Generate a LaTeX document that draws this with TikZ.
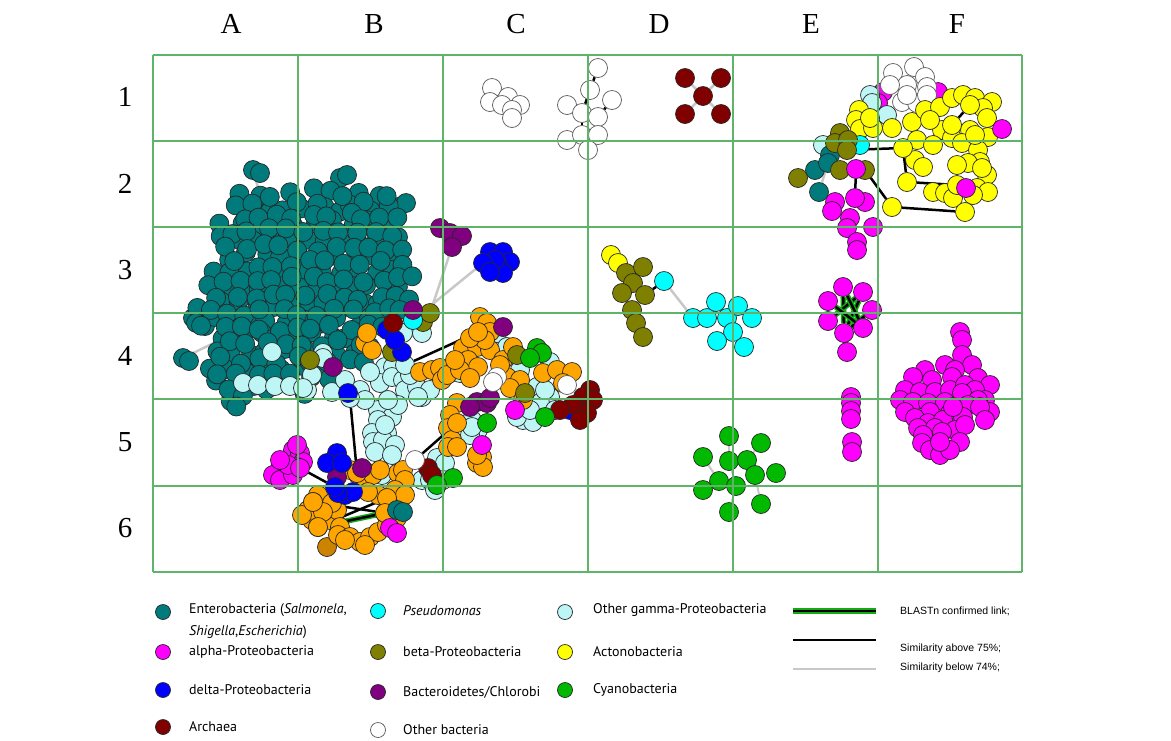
\documentclass[tikz,border=0pt]{standalone}
\usepackage{fontspec}
\newfontfamily\legfont{PT Sans}
\newfontfamily\linefont{Liberation Sans}
\newfontfamily\gridfont{Liberation Serif}
\usetikzlibrary{backgrounds}
\definecolor{entero}{RGB}{0,122,122}
\definecolor{alphap}{RGB}{255,0,255}
\definecolor{deltap}{RGB}{0,0,255}
\definecolor{archaea}{RGB}{128,0,0}
\definecolor{pseudo}{RGB}{0,255,255}
\definecolor{betap}{RGB}{128,128,0}
\definecolor{bactch}{RGB}{128,0,128}
\definecolor{gammap}{RGB}{190,245,245}
\definecolor{actino}{RGB}{255,255,0}
\definecolor{cyano}{RGB}{0,185,0}
\definecolor{orangeb}{RGB}{255,165,0}
\definecolor{gridgreen}{RGB}{95,180,105}
\definecolor{weakgray}{RGB}{200,200,200}
\definecolor{blastgreen}{RGB}{20,170,20}
\newcommand\entrows{192/{242,262,290,310,330,358,376},
                    208/{235,253,271,285,303,321,339,352,370,386},
                    224/{222,240,258,276,296,314,332,350,368,385},
                    240/{218,236,254,272,290,308,326,344,362,380,395},
                    256/{228,246,264,282,300,318,336,354,372,390},
                    272/{212,230,248,266,284,302,320,338,356,374,392,404},
                    288/{208,226,244,262,280,298,316,334,352,370,388,400},
                    304/{200,218,236,254,272,290,308,326,344,362,380,392},
                    320/{196,214,232,250,268,286,304,322,340,358,370},
                    336/{222,240,258,276,294,312,330,348,360},
                    352/{214,232,250,268,286,304,322,340,352},
                    368/{210,228,246,264,282,300,318},
                    384/{218,236,256,296},
                    398/{230}}
\tikzset{
  bact/.style={circle, draw=black!85, line width=0.7pt, fill=#1, minimum size=19pt, inner sep=0pt},
  otherb/.style={bact=white, draw=black!65},
  legdot/.style={bact=#1, minimum size=15pt},
  weak/.style={draw=weakgray, line width=2.5pt},
  strong/.style={draw=black, line width=2.5pt},
  blast/.style={draw=blastgreen, line width=1.5pt, double=black, double distance=2.5pt},
  gridline/.style={draw=gridgreen, line width=1.2pt},
  legtext/.style={anchor=west, inner sep=0pt, font=\legfont\fontsize{14}{22}\selectfont},
  linetext/.style={anchor=west, inner sep=0pt, font=\linefont\fontsize{10.5}{12}\selectfont},
  gridlab/.style={font=\gridfont\fontsize{29}{32}\selectfont}
}
\begin{document}
\begin{tikzpicture}[x=1pt,y=-1pt]
\useasboundingbox (0,0) rectangle (1171,740);

% column and row labels
\foreach \c/\x in {A/231,B/374,C/516,D/659,E/811,F/957}
  \node[gridlab] (col\c) at (\x,24) {\c};
\foreach \r/\y in {1/97,2/184,3/270,4/356,5/442,6/528}
  \node[gridlab] (row\r) at (125,\y) {\r};

% Enterobacteria cloud (A2-B4)
\node[bact=entero] (ent-a) at (253,170) {};
\node[bact=entero] at (260,173) {};
\node[bact=entero] (ent-b) at (340,178) {};
\node[bact=entero] at (347,175) {};
\node[bact=entero] at (398,207) {};
\node[bact=entero] (ent-d) at (406,203) {};
\node[bact=entero] at (193,318) {};
\node[bact=entero] at (205,326) {};
\node[bact=entero] (ent-c) at (183,358) {};
\node[bact=entero] at (189,361) {};
\pgfmathsetseed{12}
\foreach \y/\xs in \entrows {
  \foreach \x in \xs {
    \pgfmathsetmacro{\jx}{\x+4*rand}
    \pgfmathsetmacro{\jy}{\y+4*rand}
    \node[bact=entero] (ent-\y-\x) at (\jx,\jy) {};
  }
}
\foreach \y/\xs in \entrows {
  \foreach \x in \xs {
    \pgfmathsetmacro{\jx}{\x+9+4*rand}
    \pgfmathsetmacro{\jy}{\y+8+4*rand}
    \node[bact=entero] (entb-\y-\x) at (\jx,\jy) {};
  }
}

% mixed cluster B4-C5
\foreach \x/\y [count=\i] in {243/383,258/385,275/386,290/386,272/352,323/353,307/390,323/358,312/375,303/388,332/392,
    360/390,385/367,393/367,380/383,392/377,403/380,405/390,417/387,422/397,430/390,378/410,392/417,378/420,
    372/433,387/433,373/442,383/440,410/327,422/333,403/333,418/397,398/405,388/400,497/333,507/347,
    453/372,550/362,520/370,537/387,550/397,523/420,533/422,517/417,540/403,460/373,472/420,478/430,470/435,472/427,
    382/475,422/480,437/458,445/463,430/480,443/480,435/490,365/400,385/425,395/445,375/452,392/455,
    410/375,370/372,345/380,555/410,530/410,545/390}
  \node[bact=gammap] (gam\i) at (\x,\y) {};
\node[bact=gammap] (gam-a) at (350,398) {};
\node[bact=gammap] (gam-b) at (405,365) {};
\foreach \x/\y [count=\i] in {365/343,372/350,367/333,420/372,432/370,440/368,442/380,447/375,
    480/317,487/323,490/332,463/348,477/347,490/350,468/360,478/367,460/370,470/378,503/360,513/347,
    507/377,520/380,510/388,523/400,543/373,557/370,572/372,563/383,500/365,
    457/403,450/415,448/428,452/440,448/447,457/447,477/463,482/457,483/467,477/455,
    358/475,368/473,398/473,403/470,405/480,485/340,470/338,455/360}
  \node[bact=orangeb] (org\i) at (\x,\y) {};
\node[bact=orangeb] (org-a) at (478,332) {};
\node[bact=orangeb] (org-b) at (457,423) {};
\foreach \x/\y [count=\i] in {392/352,310/360,423/322,517/355,525/393}
  \node[bact=betap] (bet\i) at (\x,\y) {};
\node[bact=betap] (bet-a) at (430,313) {};
\node[bact=pseudo] (pse-m) at (413,320) {};
\foreach \x/\y [count=\i] in {387/330,402/352,395/340,348/393,570/410}
  \node[bact=deltap] (del\i) at (\x,\y) {};
\foreach \x/\y [count=\i] in {477/402,487/403,470/407,490/398,333/367,413/310,503/327}
  \node[bact=bactch] (bac\i) at (\x,\y) {};
\foreach \x/\y [count=\i] in {590/390,583/397,593/400,573/405,587/413,580/420,560/410,428/468,432/475,393/323}
  \node[bact=archaea] (arc\i) at (\x,\y) {};
\foreach \x/\y [count=\i] in {537/348,542/353,530/358,487/423,453/478,437/485,545/417}
  \node[bact=cyano] (cya\i) at (\x,\y) {};
\foreach \x/\y [count=\i] in {497/377,567/385,493/382}
  \node[otherb] (oth\i) at (\x,\y) {};
\node[otherb] (oth-a) at (415,460) {};
\node[bact=alphap] (alp-m1) at (515,410) {};
\node[bact=alphap] (alp-m2) at (482,445) {};

% bottom-left ring B5-B6
\foreach \x/\y [count=\i] in {293/450,300/453,303/462,297/467,280/468,273/475,287/473,280/480,293/475,288/465,297/445,280/460}
  \node[bact=alphap] (alr\i) at (\x,\y) {};
\node[bact=alphap] (alr-a) at (300,468) {};
\node[bact={orangeb!80!black}] (rng0) at (327,547) {};
\foreach \x/\y [count=\i] in {365/482,373/475,318/495,313/502,308/510,312/520,318/527,330/520,337/510,332/503,
    340/527,338/535,350/537,360/542,370/537,378/532,387/525,385/513,390/503,378/495,368/492,397/518,
    323/512,345/540,365/545,395/490,405/495,350/470,380/470,302/515}
  \node[bact=orangeb] (rng\i) at (\x,\y) {};
\node[bact=orangeb] (rng-a) at (357,473) {};
\node[bact=orangeb] (rng-b) at (313,502) {};
\node[bact=orangeb] (rng-c) at (318,527) {};
\node[bact=orangeb] (rng-d) at (387,498) {};
\node[bact=orangeb] (rng-e) at (385,513) {};
\foreach \x/\y [count=\i] in {337/477,362/468}
  \node[bact=bactch] (bcr\i) at (\x,\y) {};
\foreach \x/\y [count=\i] in {337/453,327/463,342/463,345/495,353/492,338/493}
  \node[bact=deltap] (dlr\i) at (\x,\y) {};
\node[bact=deltap] (dlr-a) at (335,487) {};
\node[bact=entero] (enr1) at (397,510) {};
\node[bact=entero] (enr2) at (403,512) {};
\node[bact=alphap] (alr-b) at (390,528) {};
\node[bact=alphap] (alr-c) at (397,533) {};

% C3 small clusters
\node[bact=bactch] (bch1) at (440,228) {};
\node[bact=bactch] (bch2) at (450,233) {};
\node[bact=bactch] (bch3) at (462,236) {};
\node[bact=bactch] (bch4) at (452,247) {};
\foreach \x/\y [count=\i] in {490/252,503/252,510/262,497/263,503/273,495/260}
  \node[bact=deltap] (dlc\i) at (\x,\y) {};
\node[bact=deltap] (dlc-a) at (483,263) {};
\node[bact=deltap] (dlc-b) at (490,272) {};

% C1 other bacteria
\foreach \x/\y [count=\i] in {492/88,508/97,490/102,502/105,520/105,512/110,512/118}
  \node[otherb] (obs\i) at (\x,\y) {};
\node[otherb] (wt1) at (598,68) {};
\node[otherb] (wt2) at (590,90) {};
\node[otherb] (wt7) at (567,105) {};
\node[otherb] (wt4) at (612,100) {};
\node[otherb] (wt3) at (582,113) {};
\node[otherb] (wt5) at (598,117) {};
\node[otherb] (wt9) at (567,140) {};
\node[otherb] (wt6) at (582,135) {};
\node[otherb] (wt8) at (598,135) {};
\node[otherb] (wt10) at (588,150) {};

% D1 archaea
\node[bact=archaea] (arx0) at (703,96) {};
\node[bact=archaea] (arx1) at (685,78) {};
\node[bact=archaea] (arx2) at (721,78) {};
\node[bact=archaea] (arx3) at (685,114) {};
\node[bact=archaea] (arx4) at (721,114) {};

% D3-D4 beta / Pseudomonas
\node[bact=actino] (act-d1) at (611,255) {};
\node[bact=actino] (act-d2) at (618,263) {};
\foreach \x/\y [count=\i] in {626/273,643/267,633/283,622/293,632/310,636/323,643/337}
  \node[bact=betap] (btd\i) at (\x,\y) {};
\node[bact=betap] (btd-a) at (645,295) {};
\node[bact=pseudo] (psd-a) at (664,281) {};
\node[bact=pseudo] (psd1) at (693,318) {};
\foreach \x/\y [count=\i] in {707/318,716/302,727/318,738/306,752/318,733/332,717/341,744/347}
  \node[bact=pseudo] (psd\i-b) at (\x,\y) {};

% D5 Cyanobacteria
\node[bact=cyano] (cy1) at (729,436) {};
\node[bact=cyano] (cy2) at (761,443) {};
\node[bact=cyano] (cy3) at (703,457) {};
\node[bact=cyano] (cy4) at (729,461) {};
\node[bact=cyano] (cy5) at (747,460) {};
\node[bact=cyano] (cy6) at (755,475) {};
\node[bact=cyano] (cy7) at (776,473) {};
\node[bact=cyano] (cy8) at (719,481) {};
\node[bact=cyano] (cy9) at (736,486) {};
\node[bact=cyano] (cy10) at (703,490) {};
\node[bact=cyano] (cy11) at (761,504) {};
\node[bact=cyano] (cy12) at (729,512) {};

% E1-F2 Actinobacteria cluster
\foreach \x/\y [count=\i] in {883/92,938/92,878/103}
  \node[bact=alphap] (alf\i) at (\x,\y) {};
\foreach \x/\y [count=\i] in {893/73,914/67,925/77,907/85,927/87,890/85,902/102,917/103,927/95,907/95}
  \node[otherb] (otf\i) at (\x,\y) {};
\foreach \x/\y [count=\i] in {870/95,872/103,823/145,887/115}
  \node[bact=gammap] (gmf\i) at (\x,\y) {};
\foreach \x/\y [count=\i] in {859/110,856/120,860/129,873/128,892/128,870/118,912/122,925/110,940/107,952/98,
    963/95,975/98,992/102,983/108,987/118,970/130,988/137,942/130,930/120,917/140,933/145,952/138,
    962/143,978/150,980/162,968/163,957/165,915/160,923/167,987/175,982/168,933/192,945/193,953/198,
    977/188,988/192,973/195}
  \node[bact=actino] (acf\i) at (\x,\y) {};
\node[bact=actino] (acf-a) at (907,182) {};
\node[bact=actino] (acf-b) at (957,185) {};
\node[bact=actino] (acf-c) at (892,207) {};
\node[bact=actino] (acf-d) at (965,212) {};
\node[bact=actino] (acf-e) at (903,148) {};
\node[bact=actino] (acf-f) at (952,125) {};
\node[bact=actino] (acf-g) at (970,105) {};
\node[bact=actino] (acf-h) at (975,135) {};
\node[bact=alphap] (alf-a) at (1002,129) {};
\node[bact=alphap] (alf-b) at (966,188) {};
\node[bact=entero] (enf1) at (830,155) {};
\node[bact=entero] (enf2) at (815,170) {};
\node[bact=entero] (enf3) at (828,163) {};
\node[bact=entero] (enf4) at (819,192) {};
\node[bact=pseudo] (psf1) at (860,145) {};
\foreach \x/\y [count=\i] in {840/133,835/143,848/140,840/170,798/178}
  \node[bact=betap] (btf\i) at (\x,\y) {};
\node[bact=betap] (btf-a) at (847,150) {};
\node[bact=betap] (btf-b) at (865,170) {};
\node[bact=alphap] (alf-c) at (856,169) {};
\foreach \x/\y [count=\i] in {835/202,865/202,832/211,850/218,873/227,847/228,857/242,857/250}
  \node[bact=alphap] (alc\i) at (\x,\y) {};
\node[bact=alphap] (alc-a) at (855,198) {};

% E3-E5 alpha-Proteobacteria
\node[bact=alphap] (am1) at (843,287) {};
\node[bact=alphap] (am2) at (863,292) {};
\node[bact=alphap] (am3) at (828,301) {};
\node[bact=alphap] (am4) at (872,310) {};
\node[bact=alphap] (am5) at (828,321) {};
\node[bact=alphap] (am6) at (844,333) {};
\node[bact=alphap] (am7) at (863,328) {};
\node[bact=alphap] (am8) at (847,352) {};
\foreach \x/\y [count=\i] in {851/397,851/403,851/411,851/419,852/442,852/452}
  \node[bact=alphap] (amc\i) at (\x,\y) {};
\foreach \x/\y [count=\i] in {960/332,962/340,962/355,972/365,945/365,955/370,925/370,913/377,932/380,952/377,978/378,990/385,
    905/390,920/392,935/392,950/390,965/385,975/390,985/400,
    900/400,913/402,928/403,945/402,962/393,978/400,990/412,905/412,930/412,950/413,968/405,
    915/418,928/423,943/420,963/417,980/407,985/420,918/428,935/428,955/430,965/425,
    923/435,942/432,922/443,960/442,930/450,940/455,950/450,940/442,953/407}
  \node[bact=alphap] (amf\i) at (\x,\y) {};

% connectors
\begin{pgfonlayer}{background}
  \draw[weak] (ent-a) -- (ent-192-262);
  \draw[weak] (ent-b) -- (ent-192-330);
  \draw[weak] (ent-c) -- (ent-336-222);
  \draw[strong] (ent-d) -- (ent-208-386);
  \draw[weak] (bch4) -- (bet-a);
  \draw[weak] (dlc-a) -- (pse-m);
  \draw[strong] (gam-a) -- (rng-a);
  \draw[strong] (gam-b) -- (org-a);
  \draw[strong] (oth-a) -- (org-b);
  \draw[strong] (alr-a) -- (dlr-a);
  \draw[strong] (rng-b) -- (rng-e);
  \draw[strong] (rng-c) -- (rng-d);
  \draw[blast] (rng-c) -- (rng-e);
  \draw[strong] (wt1) -- (wt2);
  \draw[strong] (wt2) -- (wt3);
  \draw[strong] (wt3) -- (wt6);
  \draw[strong] (wt4) -- (wt5);
  \foreach \k in {1,2,3,4}
    \draw[weak] (arx0) -- (arx\k);
  \draw[strong] (btd-a) -- (psd-a);
  \draw[weak] (psd-a) -- (psd1);
  \draw[weak, line width=2pt] (cy1) -- (cy4) -- (cy9) -- (cy12);
  \draw[weak, line width=2pt] (cy3) -- (cy8) -- (cy10);
  \draw[weak, line width=2pt] (cy2) -- (cy5) -- (cy6) -- (cy11);
  \draw[strong] (btf-a) -- (acf-e) -- (acf-a) -- (acf-b);
  \draw[strong] (btf-b) -- (acf-c) -- (acf-d);
  \draw[strong] (acf-f) -- (acf-g);
  \draw[strong] (acf-f) -- (acf-h);
  \draw[strong] (alf-c) -- (alc-a);
  \draw[weak] (enf3) -- (enf4);
  \draw[blast] (am1) -- (am6);
  \draw[blast] (am2) -- (am6);
  \draw[blast] (am2) -- (am5);
  \draw[blast] (am4) -- (am6);
  \draw[blast] (am3) -- (am7);
  \draw[blast] (am1) -- (am7);
  \draw[strong] (am6) -- (am8);
  \draw[strong] (amf13) -- (amf20);
\end{pgfonlayer}

% grid
\foreach \x in {153,298,443,588,733,878,1022}
  \draw[gridline] (\x,55) -- (\x,572);
\foreach \y in {55,141,227,313,399,486,572}
  \draw[gridline] (153,\y) -- (1022,\y);

% legend
\node[legdot=entero] (lg-ent) at (163,612) {};
\node[legtext, align=left] (lt-ent) at (189,621) {Enterobacteria (\textit{Salmonela},\\\textit{Shigella},\textit{Escherichia})};
\node[legdot=alphap] (lg-alp) at (163,652) {};
\node[legtext] (lt-alp) at (189,652) {alpha-Proteobacteria};
\node[legdot=deltap] (lg-del) at (163,690) {};
\node[legtext] (lt-del) at (189,690) {delta-Proteobacteria};
\node[legdot=archaea] (lg-arc) at (163,727) {};
\node[legtext] (lt-arc) at (189,727) {Archaea};
\node[legdot=pseudo] (lg-pse) at (378,611) {};
\node[legtext] (lt-pse) at (403,611) {\textit{Pseudomonas}};
\node[legdot=betap] (lg-bet) at (378,652) {};
\node[legtext] (lt-bet) at (403,652) {beta-Proteobacteria};
\node[legdot=bactch] (lg-bac) at (378,692) {};
\node[legtext] (lt-bac) at (403,692) {Bacteroidetes/Chlorobi};
\node[legdot=white, draw=black!65] (lg-oth) at (378,730) {};
\node[legtext] (lt-oth) at (403,730) {Other bacteria};
\node[legdot=gammap] (lg-gam) at (565,612) {};
\node[legtext] (lt-gam) at (593,610) {Other gamma-Proteobacteria};
\node[legdot=actino] (lg-act) at (565,652) {};
\node[legtext] (lt-act) at (593,652) {Actonobacteria};
\node[legdot=cyano] (lg-cya) at (565,690) {};
\node[legtext] (lt-cya) at (593,690) {Cyanobacteria};
\coordinate (ll1a) at (793,611);
\coordinate (ll1b) at (876,611);
\coordinate (ll2a) at (793,640);
\coordinate (ll2b) at (876,640);
\coordinate (ll3a) at (793,669);
\coordinate (ll3b) at (876,669);
\draw[blast] (ll1a) -- (ll1b);
\draw[black, line width=1.5pt] (ll2a) -- (ll2b);
\draw[weakgray, line width=1.5pt] (ll3a) -- (ll3b);
\node[linetext] (lt-blast) at (900,611) {BLASTn confirmed link;};
\node[linetext] (lt-above) at (900,649) {Similarity above 75\%;};
\node[linetext] (lt-below) at (900,668) {Similarity below 74\%;};
\end{tikzpicture}
\end{document}
